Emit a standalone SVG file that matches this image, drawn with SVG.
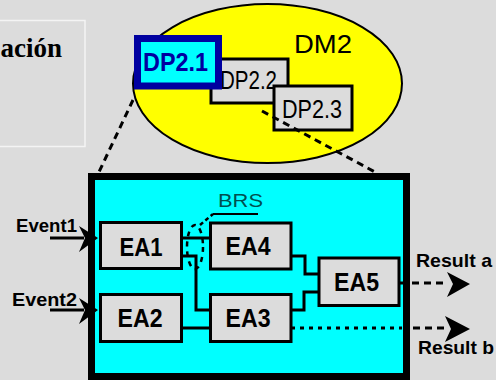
<svg xmlns="http://www.w3.org/2000/svg" width="496" height="380" viewBox="0 0 496 380">
<style>
.box{fill:#dcdcdc;stroke:#000;stroke-width:3}
.lbl{font-family:"Liberation Sans",Arial,sans-serif;font-weight:bold;font-size:25px;fill:#000;text-anchor:middle}
.dp{font-family:"Liberation Sans",Arial,sans-serif;font-size:26px;fill:#000}
.ev{font-family:"Liberation Sans",Arial,sans-serif;font-weight:bold;font-size:19px;fill:#000}
.ln{fill:none;stroke:#000;stroke-width:3}
.dash{fill:none;stroke:#000;stroke-width:3;stroke-dasharray:7 5}
.dot{fill:none;stroke:#000;stroke-width:3;stroke-dasharray:4 5}
.ah{fill:#000}
</style>
<rect x="0" y="0" width="496" height="380" fill="#dcdcdc"/>
<g id="title">
<rect x="-2" y="20.5" width="87" height="126" fill="none" stroke="#f4f4f4" stroke-width="1.5"/>
<text x="62" y="57" font-family="'Liberation Serif','Times New Roman',serif" font-weight="bold" font-size="27" text-anchor="end" fill="#000">ación</text>
</g>
<g id="DM2">
<ellipse cx="267.5" cy="83.5" rx="134.5" ry="79.5" fill="#ffff00" stroke="#000" stroke-width="2"/>
<text class="dp" x="294" y="53" font-size="29" textLength="58" lengthAdjust="spacingAndGlyphs">DM2</text>
</g>
<g id="DP2.2">
<rect class="box" x="211" y="59" width="77" height="44" stroke-width="2.5"/>
<text class="dp" x="220" y="89" textLength="57" lengthAdjust="spacingAndGlyphs">DP2.2</text>
</g>
<g id="DP2.3">
<rect class="box" x="274" y="86" width="78" height="44" stroke-width="2.5"/>
<text class="dp" x="282" y="118" textLength="60" lengthAdjust="spacingAndGlyphs">DP2.3</text>
</g>
<g id="DP2.1">
<rect x="137.5" y="38.5" width="81" height="47.5" fill="#00ffff" stroke="#0000a0" stroke-width="7"/>
<text x="143" y="71" font-family="'Liberation Sans',Arial,sans-serif" font-weight="bold" font-size="25" fill="#0000a0" textLength="65" lengthAdjust="spacingAndGlyphs">DP2.1</text>
</g>
<g id="main">
<rect x="91.5" y="176.5" width="315" height="200" fill="#00ffff" stroke="#000" stroke-width="7"/>
</g>
<g id="connectors">
<path class="dash" d="M133,100 L99,172" stroke-dasharray="5 10" stroke-width="2.5"/>
<path class="dash" d="M262,111 L375,172" stroke-dasharray="8 12" stroke-width="2.5"/>
<path class="ln" d="M182,238 H211"/>
<path class="ln" d="M182,256 H196 V310 H211"/>
<path class="ln" d="M182,328 H211"/>
<path class="ln" d="M290,256 H305 V274 H319"/>
<path class="ln" d="M290,310 H304 V292 H319"/>
<path class="ln" d="M399,283 H405"/>
<path class="dot" d="M291,328 H402"/>
<path class="dash" d="M412,283 H447"/>
<polygon class="ah" points="470,284 447,272 453,284 447,297"/>
<path class="dash" d="M413,328 H445"/>
<polygon class="ah" points="470,329 445,316 451,329 445,342"/>
<path class="ln" d="M50,238 H84"/>
<polygon class="ah" points="98,238 79,226 85,238 79,252"/>
<path class="ln" d="M50,310 H84"/>
<polygon class="ah" points="98,310 79,298 85,310 79,324"/>
<ellipse cx="195" cy="247" rx="8" ry="22" fill="none" stroke="#000" stroke-width="2.5" stroke-dasharray="5 5"/>
<path d="M200,225 L213,214" fill="none" stroke="#000" stroke-width="2.5" stroke-dasharray="4 3"/>
<path d="M213,214 H258" fill="none" stroke="#000" stroke-width="2"/>
</g>
<g id="EA1"><rect class="box" x="100.5" y="222.5" width="81" height="46"/><text class="lbl" x="141" y="256" textLength="43" lengthAdjust="spacingAndGlyphs">EA1</text></g>
<g id="EA2"><rect class="box" x="100.5" y="294.5" width="81" height="47"/><text class="lbl" x="140" y="327" textLength="45" lengthAdjust="spacingAndGlyphs">EA2</text></g>
<g id="EA4"><rect class="box" x="210.5" y="223" width="80.5" height="46"/><text class="lbl" x="248" y="255" textLength="45" lengthAdjust="spacingAndGlyphs">EA4</text></g>
<g id="EA3"><rect class="box" x="210.5" y="294.5" width="80.5" height="47"/><text class="lbl" x="248" y="327" textLength="45" lengthAdjust="spacingAndGlyphs">EA3</text></g>
<g id="EA5"><rect class="box" x="319" y="258" width="80" height="47.5"/><text class="lbl" x="356.5" y="291" textLength="45" lengthAdjust="spacingAndGlyphs">EA5</text></g>
<g id="labels">
<text x="218" y="207" font-family="'Liberation Sans',Arial,sans-serif" font-size="19" fill="#005050" textLength="45" lengthAdjust="spacingAndGlyphs">BRS</text>
<text class="ev" x="16" y="232" textLength="61" lengthAdjust="spacingAndGlyphs">Event1</text>
<text class="ev" x="12" y="306" textLength="65" lengthAdjust="spacingAndGlyphs">Event2</text>
<text class="ev" x="416" y="267" font-size="20" textLength="76" lengthAdjust="spacingAndGlyphs">Result a</text>
<text class="ev" x="418" y="354" font-size="20" textLength="76" lengthAdjust="spacingAndGlyphs">Result b</text>
</g>
</svg>
